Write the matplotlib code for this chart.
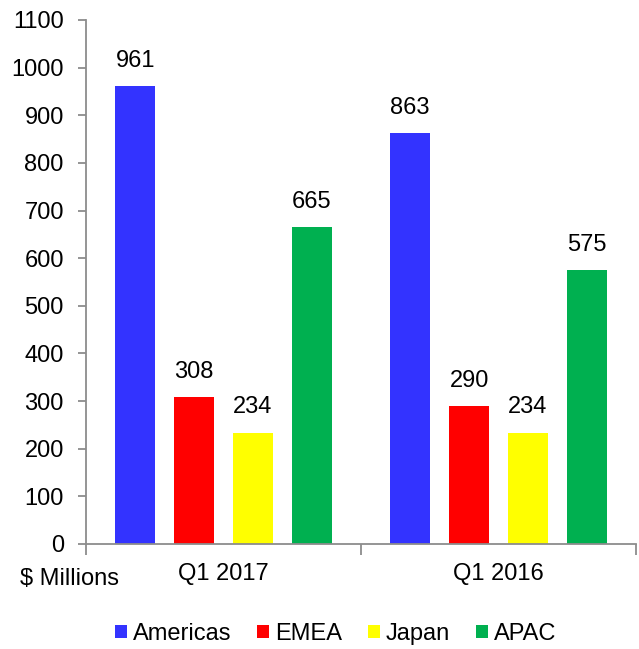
import matplotlib
matplotlib.use("Agg")
import matplotlib.pyplot as plt
import numpy as np
from matplotlib.patches import Patch

plt.rcParams['font.family'] = ['Liberation Sans', 'DejaVu Sans']

categories = ["Q1 2017", "Q1 2016"]
regions = ["Americas", "EMEA", "Japan", "APAC"]
values = {
    "Americas": [961, 863],
    "EMEA": [308, 290],
    "Japan": [234, 234],
    "APAC": [665, 575],
}
colors = ["#3333FF", "#FF0000", "#FFFF00", "#00B050"]
y_ticks = list(range(0, 1101, 100))

FS = 17

fig = plt.figure(figsize=(6.39, 6.49), dpi=100)
ax = fig.add_axes([0.1346, 0.1618, 0.8607, 0.8074])

x = np.arange(len(categories))
bar_w = 0.145
step = 0.214
offsets = (np.arange(len(regions)) - 1.5) * step

for i, (reg, col) in enumerate(zip(regions, colors)):
    vals = values[reg]
    bars = ax.bar(x + offsets[i], vals, width=bar_w, color=col, zorder=2)
    for b, v in zip(bars, vals):
        ax.text(b.get_x() + b.get_width() / 2, v + 30, f"{v}",
                ha="center", va="bottom", fontsize=FS, color="black")

ax.set_xlim(-0.5, len(categories) - 0.5)
ax.set_ylim(0, 1100)
ax.set_yticks(y_ticks)
ax.set_yticklabels([str(t) for t in y_ticks], fontsize=FS)

ax.set_xticks([-0.5, 0.5, 1.5])
ax.set_xticklabels([])
ax.set_xticks(x, minor=True)
ax.set_xticklabels(categories, minor=True, fontsize=FS)
ax.tick_params(axis="x", which="minor", length=0, pad=14)
ax.tick_params(axis="x", which="major", length=8, width=1.3, color="#8C8C8C", direction="out")
ax.tick_params(axis="y", length=6, width=1.3, color="#8C8C8C", direction="out", pad=10)

for side in ("top", "right"):
    ax.spines[side].set_visible(False)
for side in ("left", "bottom"):
    ax.spines[side].set_color("#8C8C8C")
    ax.spines[side].set_linewidth(1.3)

fig.text(20 / 639, 1 - 579 / 649, "$ Millions", ha="left", va="center", fontsize=FS)

handles = [Patch(facecolor=c, edgecolor="none") for c in colors]
fig.legend(handles, regions, loc="center", bbox_to_anchor=(0.525, 1 - 634 / 649),
           ncol=4, frameon=False, fontsize=FS, handlelength=0.5, handleheight=0.5,
           handletextpad=0.25, columnspacing=1.1)

fig.savefig("out.png", dpi=100)
